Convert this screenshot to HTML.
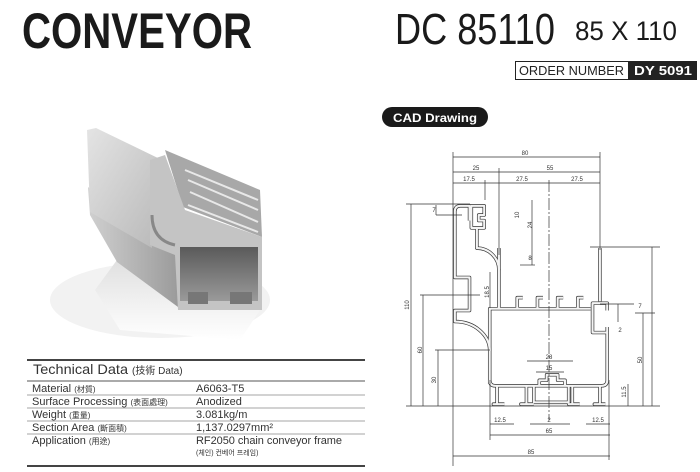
<!DOCTYPE html>
<html><head><meta charset="utf-8"><style>html,body{margin:0;padding:0;background:#fff}svg{display:block}</style></head>
<body>
<svg width="700" height="472" viewBox="0 0 700 472" xmlns="http://www.w3.org/2000/svg">
<defs>
<linearGradient id="g1" x1="0" y1="0" x2="1" y2="1"><stop offset="0" stop-color="#e4e4e4"/><stop offset="1" stop-color="#b8b8b8"/></linearGradient>
<linearGradient id="g2" x1="0" y1="0" x2="1" y2="0"><stop offset="0" stop-color="#d0d0d0"/><stop offset="1" stop-color="#9a9a9a"/></linearGradient>
<linearGradient id="g3" x1="0" y1="0" x2="0" y2="1"><stop offset="0" stop-color="#5a5a5a"/><stop offset="1" stop-color="#9a9a9a"/></linearGradient>
<linearGradient id="g4" x1="0" y1="0" x2="0" y2="1"><stop offset="0" stop-color="#e0e0e0"/><stop offset="1" stop-color="#fff"/></linearGradient>
<g id="w">
<path d="M9,101 L9,109 L4,109 Q1,109 1,106 L1,70 L9,70 L9,52 L1,52 L1,46 A19,16 0 0 0 20,30"/>
<path d="M10,109 L17,109 L17,104 L14,104 L14,101 L17,101 L17,97 L10,97 Z"/>
<path d="M13,97 L13,86 A12,12 0 0 0 25,74 L25,53"/>
<path d="M25,74 L25,86"/>
<path d="M20,12 L20,53 L75,53"/>
<path d="M80,57 L80,86"/>
<path d="M76,53 L76,56 L84,56 L84,52 M84,43 L84,40 L76,40 L76,53"/>
<path d="M84,40 L84,14 Q84,11 81,11 L23,11 Q20,11 20,14"/>
<path d="M24,11 L24,1 L22,1 L28,1 M40,11 L40,1 L37,1 L44,1 M65,11 L65,1 L63,1 L69,1 M80,11 L80,1 L77,1 L83,1"/>
<path d="M44,11 L44,2 L63,2 L63,11 M47,11 L47,14 L51,14 L51,17 L57,17 L57,14 L61,14 L61,11"/>
<path d="M35,53 L35,59 L38,59 M46,53 L46,59 L49,59 M57,53 L57,59 L60,59 M68,53 L68,59 L71,59"/>
</g>
</defs>
<text x="22" y="48" font-family="Liberation Sans, sans-serif" font-weight="bold" font-size="50" textLength="230" lengthAdjust="spacingAndGlyphs" fill="#1a1a1a">CONVEYOR</text>
<text x="395" y="44" font-family="Liberation Sans, sans-serif" font-size="44" textLength="160" lengthAdjust="spacingAndGlyphs" fill="#1a1a1a">DC 85110</text>
<text x="575" y="40" font-family="Liberation Sans, sans-serif" font-size="27" textLength="102" lengthAdjust="spacingAndGlyphs" fill="#1a1a1a">85 X 110</text>
<rect x="515.5" y="61.5" width="181" height="18" fill="#fff" stroke="#222"/>
<rect x="628" y="61" width="69" height="19" fill="#222"/>
<text x="519" y="75" font-family="Liberation Sans, sans-serif" font-size="13" textLength="105" lengthAdjust="spacingAndGlyphs" fill="#222">ORDER NUMBER</text>
<text x="634" y="75" font-family="Liberation Sans, sans-serif" font-weight="bold" font-size="13" textLength="58" lengthAdjust="spacingAndGlyphs" fill="#fff">DY 5091</text>
<rect x="382" y="107" width="106" height="20" rx="10" fill="#1a1a1a"/>
<text x="393" y="122" font-family="Liberation Sans, sans-serif" font-weight="bold" font-size="12" textLength="84" lengthAdjust="spacingAndGlyphs" fill="#fff">CAD Drawing</text>

<!-- 3D photo -->
<ellipse cx="160" cy="300" rx="110" ry="38" fill="#f2f2f2"/>
<polygon points="117,260 178,307 260,310 240,340 120,330 95,290" fill="url(#g4)"/>
<polygon points="88,187 150,243 180,247 178,307 117,262 90,215" fill="url(#g2)"/>
<polygon points="87,130 96,128 162,160 152,168 152,248 90,212" fill="url(#g1)"/>
<polygon points="165,150 260,190 262,237 183,207" fill="#a8a8a8"/>
<g stroke="#e8e8e8" stroke-width="2"><line x1="185" y1="170" x2="258" y2="200"/><line x1="188" y1="180" x2="258" y2="210"/><line x1="190" y1="192" x2="258" y2="222"/><line x1="188" y1="205" x2="258" y2="232"/></g>
<polygon points="150,160 165,155 185,210 262,237 262,310 178,310 175,255 150,245" fill="#c4c4c4"/>
<rect x="180" y="247" width="78" height="54" fill="url(#g3)"/>
<rect x="188" y="292" width="20" height="12" fill="#777"/><rect x="230" y="292" width="22" height="12" fill="#777"/>
<path d="M152,215 Q152,240 175,245" fill="none" stroke="#888" stroke-width="3"/>

<!-- table -->
<g font-family="Liberation Sans, 'Noto Sans CJK KR', sans-serif" fill="#333">
<line x1="27" y1="360" x2="365" y2="360" stroke="#444" stroke-width="2"/>
<text x="33" y="374" font-size="14" textLength="95" lengthAdjust="spacingAndGlyphs">Technical Data</text>
<text x="132" y="374" font-size="10">(技術 Data)</text>
<line x1="27" y1="381" x2="365" y2="381" stroke="#555" stroke-width="1"/>
<g font-size="11">
<text x="32" y="392">Material <tspan font-size="8">(材質)</tspan></text><text x="196" y="392">A6063-T5</text>
<text x="32" y="405">Surface Processing <tspan font-size="8">(表面處理)</tspan></text><text x="196" y="405">Anodized</text>
<text x="32" y="418">Weight <tspan font-size="8">(重量)</tspan></text><text x="196" y="418">3.081kg/m</text>
<text x="32" y="431">Section Area <tspan font-size="8">(斷面積)</tspan></text><text x="196" y="431">1,137.0297mm²</text>
<text x="32" y="444">Application <tspan font-size="8">(用途)</tspan></text><text x="196" y="444" textLength="146">RF2050 chain conveyor frame</text>
</g>
<text x="196" y="455" font-size="7">(체인) 컨베어 프레임)</text>
<g stroke="#888" stroke-width="0.8"><line x1="27" y1="395" x2="365" y2="395"/><line x1="27" y1="408" x2="365" y2="408"/><line x1="27" y1="421" x2="365" y2="421"/><line x1="27" y1="434" x2="365" y2="434"/></g>
<line x1="27" y1="466" x2="365" y2="466" stroke="#444" stroke-width="2"/>
</g>

<!-- CAD profile -->
<g transform="translate(453,406) scale(1.836,-1.836)" fill="none" stroke-linejoin="round">
<use href="#w" stroke="#333" stroke-width="1.9"/>
<use href="#w" stroke="#f4f4f4" stroke-width="1.15"/>
</g>

<!-- dimensions -->
<g stroke="#333" stroke-width="0.7" fill="none">
<line x1="453" y1="157" x2="600" y2="157"/><line x1="453" y1="172" x2="600" y2="172"/><line x1="453" y1="183" x2="600" y2="183"/>
<line x1="453" y1="152" x2="453" y2="466"/><line x1="600" y1="152" x2="600" y2="250"/>
<line x1="499" y1="168" x2="499" y2="255"/><line x1="485" y1="180" x2="485" y2="200"/>
<line x1="549" y1="180" x2="549" y2="420" stroke-dasharray="12,2,2,2"/>
<line x1="411" y1="204" x2="411" y2="406"/><line x1="406" y1="204" x2="470" y2="204"/>
<line x1="423" y1="295" x2="423" y2="406"/><line x1="420" y1="295" x2="480" y2="295"/>
<line x1="438" y1="350" x2="438" y2="406"/><line x1="435" y1="350" x2="490" y2="350"/>
<line x1="406" y1="406" x2="660" y2="406"/>
<line x1="643" y1="313" x2="643" y2="406"/><line x1="635" y1="313" x2="655" y2="313"/>
<line x1="652" y1="247" x2="652" y2="406"/><line x1="590" y1="247" x2="660" y2="247"/>
<line x1="628" y1="384" x2="628" y2="406"/>
<line x1="490" y1="424" x2="514" y2="424"/><line x1="530" y1="424" x2="570" y2="424"/><line x1="586" y1="424" x2="610" y2="424"/>
<line x1="490" y1="435" x2="610" y2="435"/><line x1="453" y1="456" x2="610" y2="456"/>
<line x1="490" y1="380" x2="490" y2="440"/><line x1="609" y1="380" x2="609" y2="460"/>
<line x1="527" y1="361" x2="573" y2="361"/><line x1="536" y1="372" x2="564" y2="372"/>
<line x1="532" y1="200" x2="532" y2="248"/><line x1="532" y1="248" x2="532" y2="265"/><line x1="520" y1="265" x2="535" y2="265"/>
<line x1="490" y1="272" x2="490" y2="308"/>
<line x1="618" y1="304" x2="618" y2="322"/><line x1="600" y1="304" x2="634" y2="304"/>
<line x1="436" y1="205" x2="436" y2="215"/><line x1="436" y1="215" x2="462" y2="215"/>
</g>
<g font-family="Liberation Sans, sans-serif" font-size="6" fill="#333" text-anchor="middle">
<text x="525" y="155">80</text><text x="476" y="170">25</text><text x="550" y="170">55</text>
<text x="469" y="181">17.5</text><text x="522" y="181">27.5</text><text x="577" y="181">27.5</text>
<text x="407" y="307" transform="rotate(-90 407 305)">110</text>
<text x="420" y="352" transform="rotate(-90 420 350)">60</text>
<text x="434" y="382" transform="rotate(-90 434 380)">30</text>
<text x="640" y="362" transform="rotate(-90 640 360)">50</text>
<text x="624" y="394" transform="rotate(-90 624 392)">11.5</text>
<text x="487" y="294" transform="rotate(-90 487 292)">18.5</text>
<text x="530" y="227" transform="rotate(-90 530 225)">24</text>
<text x="517" y="217" transform="rotate(-90 517 215)">10</text>
<text x="434" y="212">7</text><text x="530" y="260">8</text><text x="640" y="308">7</text>
<text x="500" y="422">12.5</text><text x="549" y="422">2</text><text x="598" y="422">12.5</text>
<text x="549" y="433">65</text><text x="531" y="454">85</text>
<text x="549" y="359">28</text><text x="549" y="370">15</text><text x="620" y="332">2</text>
</g>
</svg>
</body></html>
